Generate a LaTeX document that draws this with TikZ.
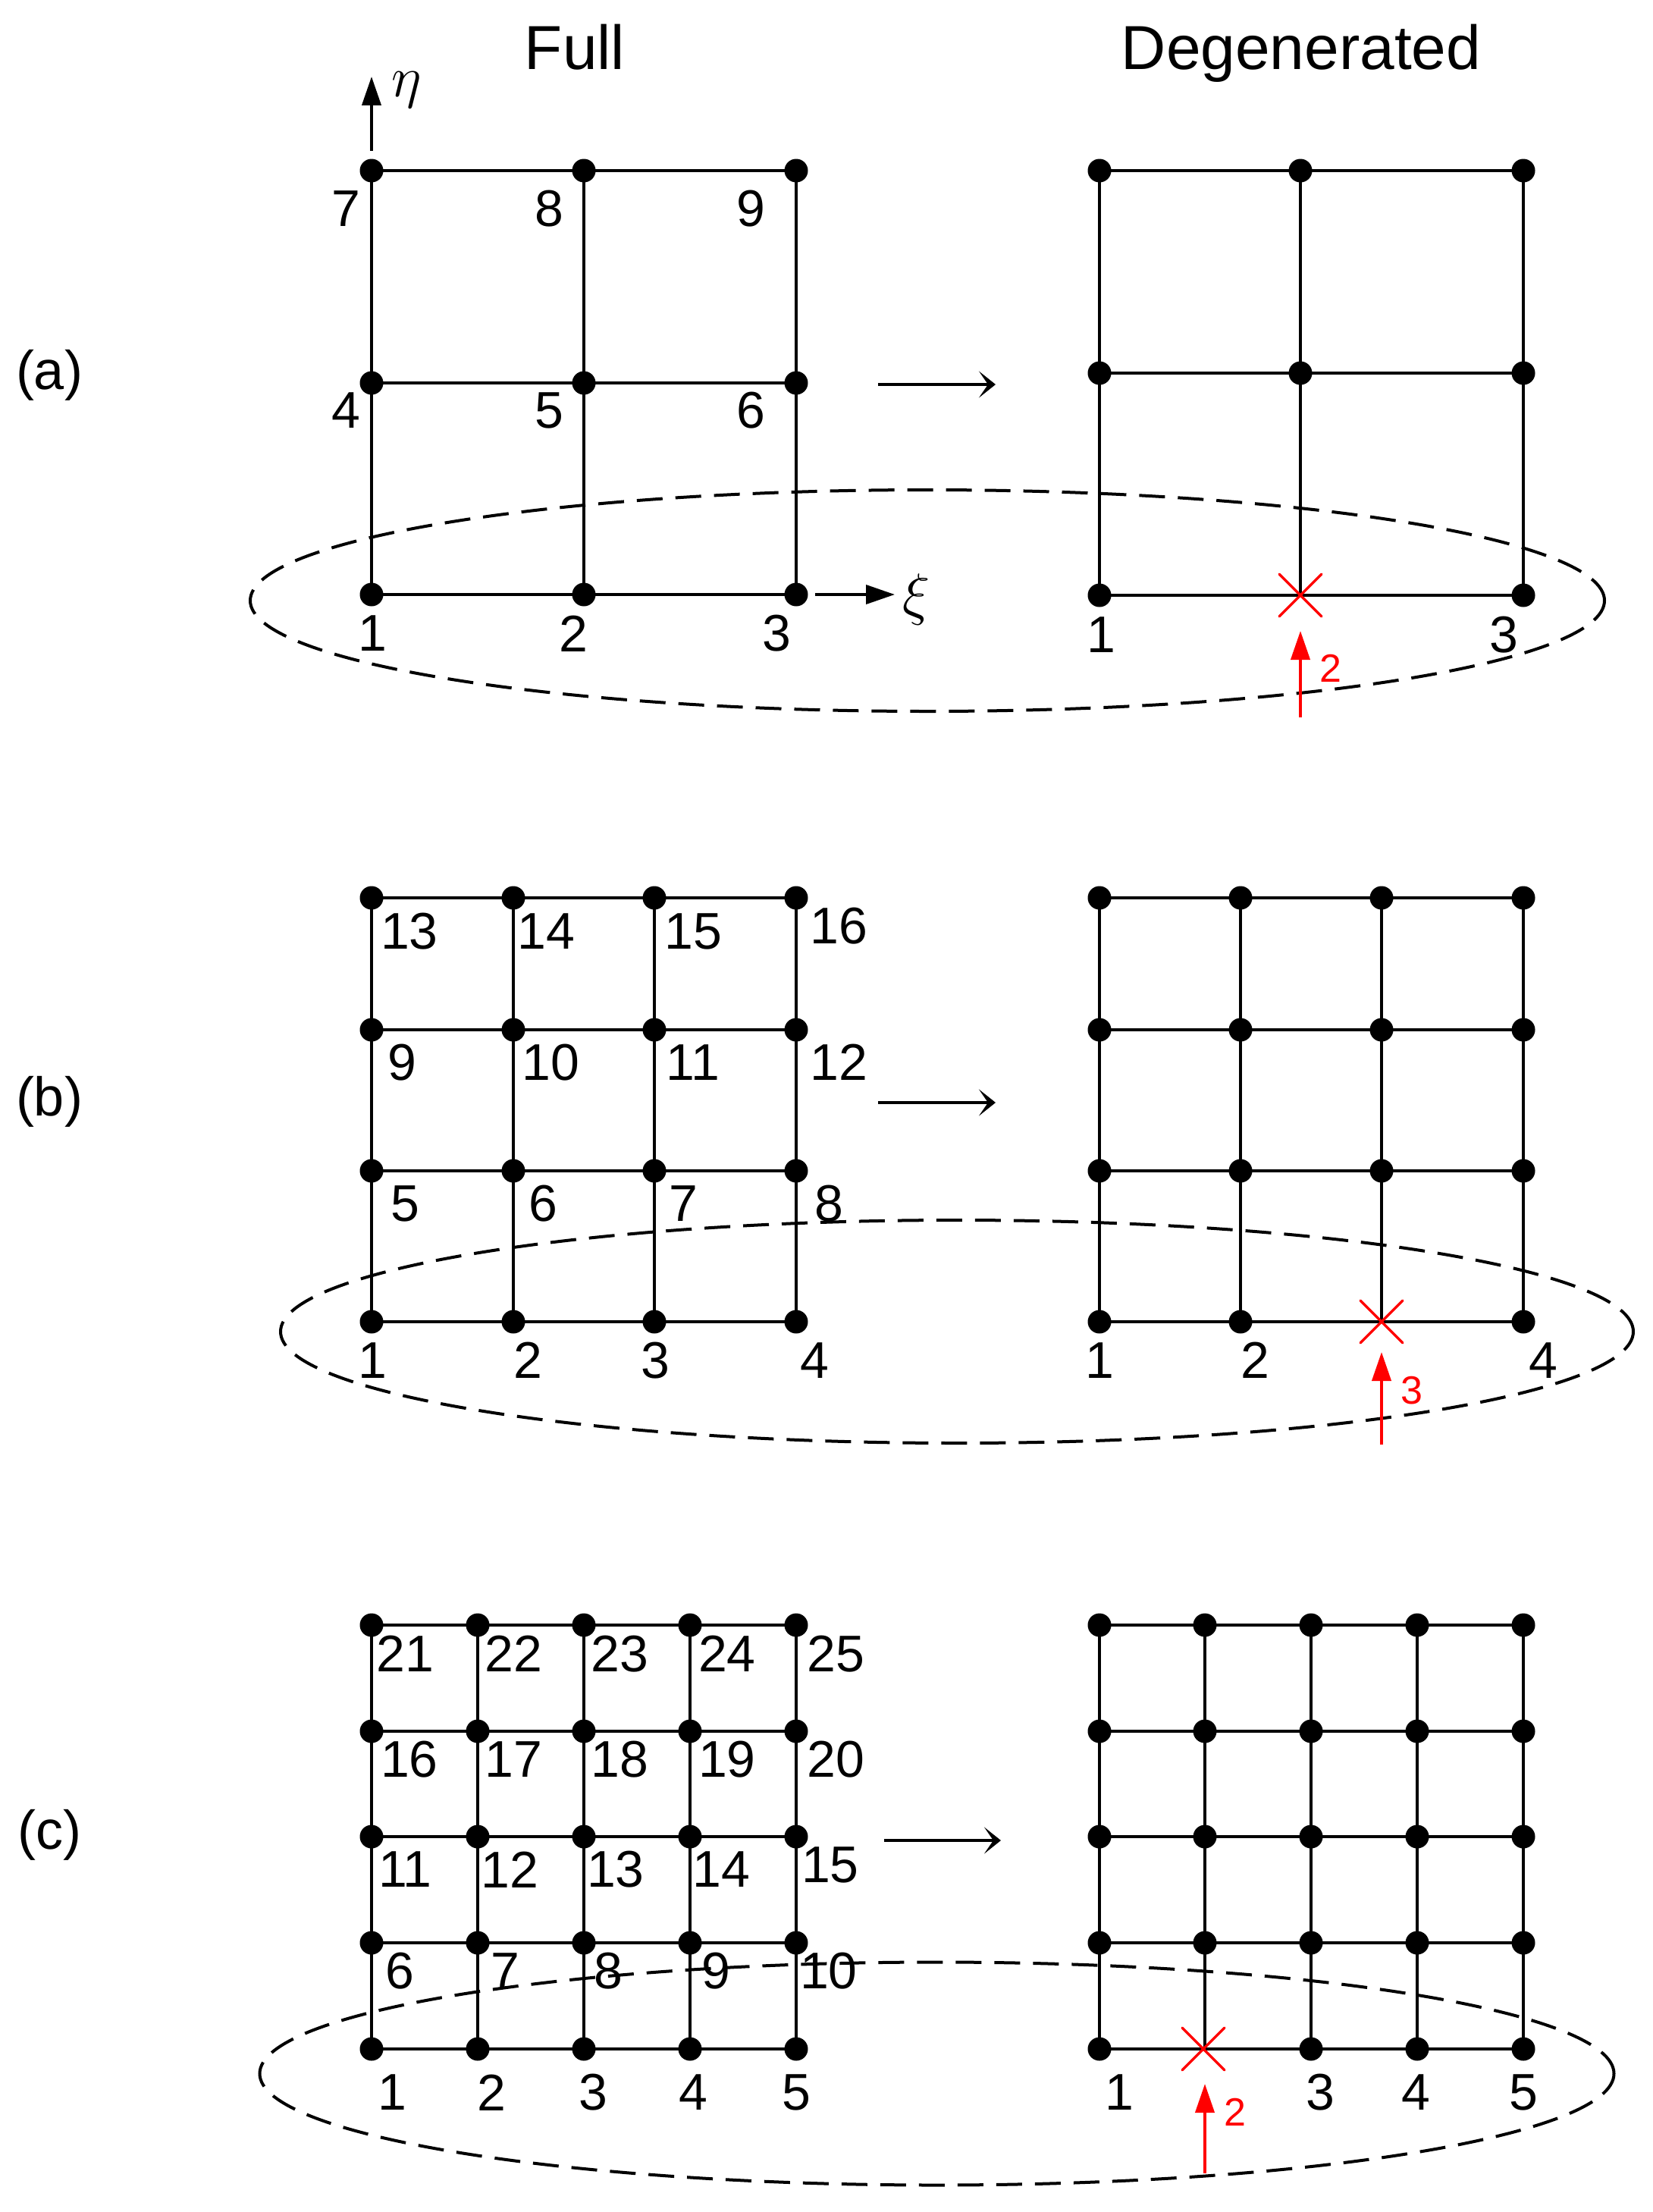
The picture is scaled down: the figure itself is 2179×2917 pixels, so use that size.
\RequirePackage{fix-cm}
\documentclass[tikz,border=0pt]{standalone}
\usepackage{fontspec}
\setmainfont{Liberation Sans}
\usetikzlibrary{arrows.meta}
\tikzset{
  meshdot/.style={circle,fill=black,draw=none,inner sep=0pt,minimum size=15.5pt},
  mesh hole/.style={fill=none,minimum size=1pt},
  mesh ad-2-3/.style={mesh hole},
  mesh bd-3-4/.style={mesh hole},
  mesh cd-2-5/.style={mesh hole},
  meshline/.style={line width=2.2pt,black},
  numlabel/.style={inner sep=0pt,font=\fontsize{34}{40}\selectfont,text=black},
  sidelabel/.style={inner sep=0pt,font=\fontsize{36}{42}\selectfont,text=black},
  titlelabel/.style={inner sep=0pt,anchor=base,font=\fontsize{41}{46}\selectfont,text=black},
  mathlabel/.style={inner sep=0pt,font=\fontsize{38}{44}\selectfont,text=black},
  redlabel/.style={inner sep=0pt,font=\fontsize{26}{30}\selectfont,text=red},
  zoneline/.style={line width=2pt,black,dash pattern=on 17pt off 8.5pt},
  axisarrow/.style={line width=2pt,black,-{Triangle[length=19pt,width=12.5pt]}},
  redarrow/.style={line width=2pt,red,-{Triangle[length=19pt,width=12.5pt]}},
  maparrow/.style={line width=2pt,black,-{Stealth[length=11pt,width=17.5pt,inset=6pt]}},
  redcross/.style={line width=1.7pt,red,line cap=round},
}
\newcommand{\meshgrid}[5]{%
  % #1 prefix, #2 nx, #3 ny, #4 x list, #5 y list
  \foreach \yy [count=\jj] in {#5} {
    \foreach \xx [count=\ii] in {#4} {
      \node[meshdot,mesh #1-\ii-\jj/.try] (#1-\ii-\jj) at (\xx,\yy) {};
    }
  }
  \foreach \jj in {1,...,#3} {
    \foreach \ii [remember=\ii as \pp (initially 1)] in {2,...,#2} {
      \draw[meshline] (#1-\pp-\jj.center) -- (#1-\ii-\jj.center);
    }
  }
  \foreach \ii in {1,...,#2} {
    \foreach \jj [remember=\jj as \pp (initially 1)] in {2,...,#3} {
      \draw[meshline] (#1-\ii-\pp.center) -- (#1-\ii-\jj.center);
    }
  }
}
\newcommand{\labels}[1]{%
  \foreach \tt/\xx/\yy in {#1} {
    \node[numlabel] at ({\xx*1.862},{\yy*1.8607}) {\tt};
  }
}
\begin{document}
\begin{tikzpicture}[x=0.5pt,y=-0.5pt]
\useasboundingbox (0,0) rectangle (2179,2917);
% titles
\node[titlelabel] (tfull) at (758,91) {Full};
\node[titlelabel] (tdeg) at (1716,91) {Degenerated};
\node[sidelabel] (la) at (65,495) {(a)};
\node[sidelabel] (lb) at (65,1453) {(b)};
\node[sidelabel] (lc) at (65,2420) {(c)};
% meshes
\meshgrid{af}{3}{3}{490,770,1050}{225,505,784}
\meshgrid{ad}{3}{3}{1450,1715,2009}{225,492,785}
\meshgrid{bf}{4}{4}{490,677,863,1050}{1184,1358,1544,1743}
\meshgrid{bd}{4}{4}{1450,1636,1822,2009}{1184,1358,1544,1743}
\meshgrid{cf}{5}{5}{490,630,770,910,1050}{2143,2283,2422,2562,2702}
\meshgrid{cd}{5}{5}{1450,1589,1729,1869,2009}{2143,2283,2422,2562,2702}
% axes
\coordinate (etatip) at (490,101);
\coordinate (etafoot) at (490,199);
\coordinate (xifoot) at (1075,784);
\coordinate (xitip) at (1180,784);
\draw[axisarrow] (etafoot) -- (etatip);
\draw[axisarrow] (xifoot) -- (xitip);
\node[mathlabel] (eta) at (536,119) {$\eta$};
\node[mathlabel] (xi) at (1209,790) {$\xi$};
% map arrows
\coordinate (ma1) at (1158,507); \coordinate (ma2) at (1313,507);
\coordinate (mb1) at (1158,1454); \coordinate (mb2) at (1313,1454);
\coordinate (mc1) at (1166,2427); \coordinate (mc2) at (1320,2427);
\draw[maparrow] (ma1) -- (ma2);
\draw[maparrow] (mb1) -- (mb2);
\draw[maparrow] (mc1) -- (mc2);
% node numbers
\labels{7/245/148,8/389/148,9/532/148,4/245/291,5/389/291,6/532/291,1/264/449,2/406/449,3/550/449,1/780/450,3/1065/450}
\labels{13/290/660,14/387/660,15/491/660,16/594/656,9/285/753,10/390/753,11/491/753,12/594/753,5/287/853,6/385/853,7/484/853,8/587/853,1/264/964,2/374/964,3/464/964,4/577/964,1/779/964,2/889/964,4/1093/964}
\labels{21/287/1172,22/364/1172,23/439/1172,24/515/1172,25/592/1172,16/290/1247,17/364/1247,18/439/1247,19/515/1247,20/592/1247,11/287/1325,12/361/1325,13/436/1325,14/511/1325,15/588/1322,6/283/1397,7/358/1397,8/431/1397,9/507/1397,10/587/1397,1/278/1483,2/348/1483,3/420/1483,4/491/1483,5/564/1483,1/793/1483,3/935/1483,4/1003/1483,5/1079/1483}
% dashed zones
\draw[zoneline] (1223,792) ellipse [x radius=446.5pt,y radius=73pt];
\draw[zoneline] (1262,1756) ellipse [x radius=446pt,y radius=73.5pt];
\draw[zoneline] (1235.5,2734.5) ellipse [x radius=446.5pt,y radius=73.5pt];
% degenerated points
\foreach \cx/\cy/\nm in {1715/785/a,1822/1743/b,1587/2702/c} {
  \coordinate (x\nm1) at (\cx-28,\cy-28);
  \coordinate (x\nm2) at (\cx+28,\cy+28);
  \coordinate (x\nm3) at (\cx-28,\cy+28);
  \coordinate (x\nm4) at (\cx+28,\cy-28);
  \draw[redcross] (x\nm1) -- (x\nm2);
  \draw[redcross] (x\nm3) -- (x\nm4);
}
\coordinate (ra1) at (1715,946); \coordinate (ra2) at (1715,832);
\coordinate (rb1) at (1822,1905); \coordinate (rb2) at (1822,1783);
\coordinate (rc1) at (1589,2866); \coordinate (rc2) at (1589,2748);
\draw[redarrow] (ra1) -- (ra2);
\draw[redarrow] (rb1) -- (rb2);
\draw[redarrow] (rc1) -- (rc2);
\node[redlabel] (na) at (1755,881) {2};
\node[redlabel] (nb) at (1862,1834) {3};
\node[redlabel] (nc) at (1629,2785) {2};
\end{tikzpicture}
\end{document}
